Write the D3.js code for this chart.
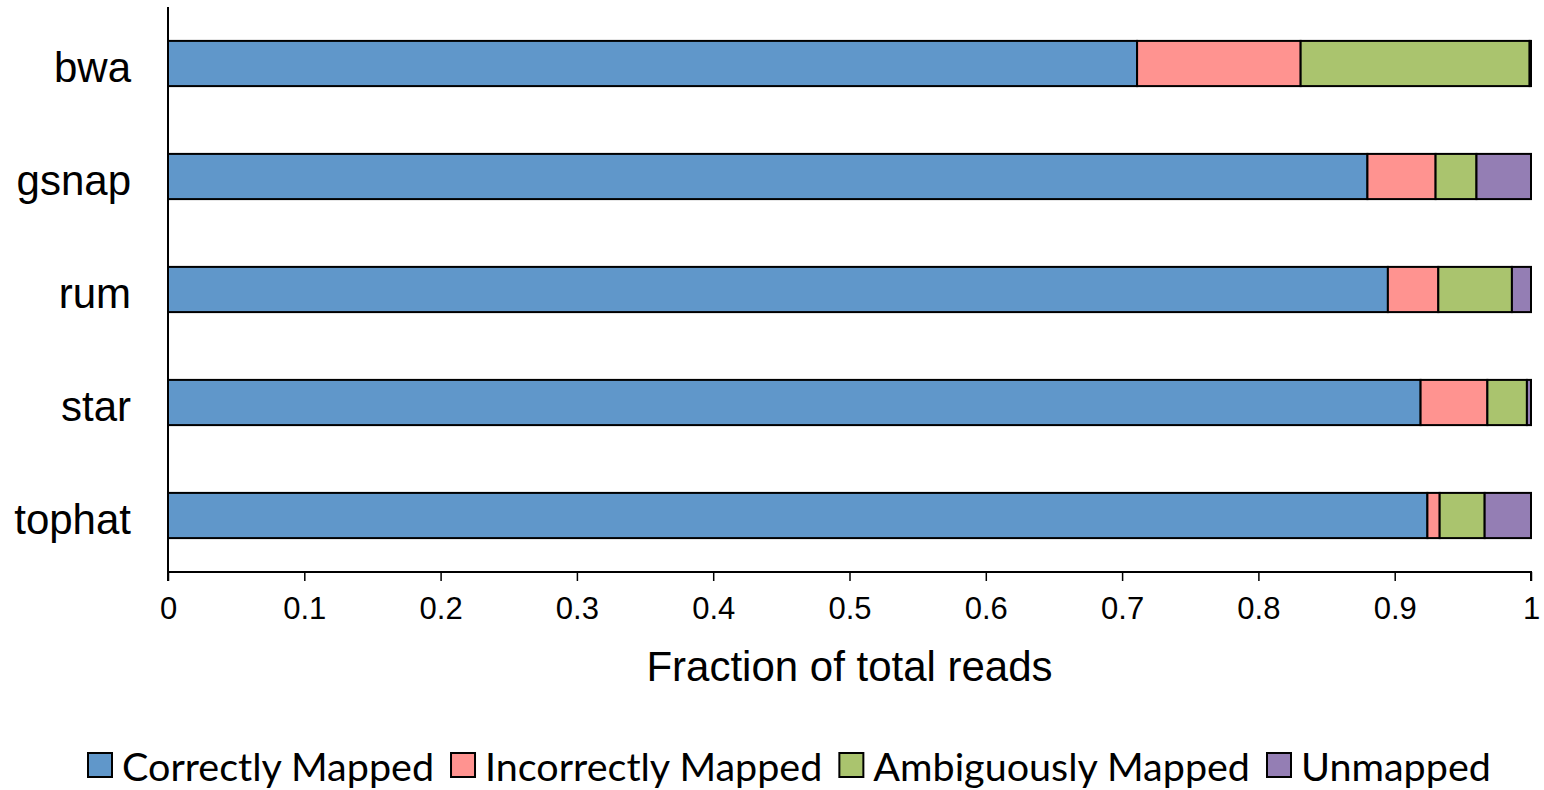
<!DOCTYPE html>
<html><head><meta charset="utf-8">
<script src="https://cdn.jsdelivr.net/npm/d3@7"></script>
<style>body{margin:0;background:#fff}svg{display:block}</style>
</head><body>
<svg id="c" width="1544" height="790"></svg>
<script>
const categories = ["bwa","gsnap","rum","star","tophat"];
const seriesNames = ["Correctly Mapped","Incorrectly Mapped","Ambiguously Mapped","Unmapped"];
const correctlyMapped   = [0.711,0.880,0.895,0.919,0.924];
const incorrectlyMapped = [0.120,0.050,0.037,0.049,0.009];
const ambiguouslyMapped = [0.168,0.030,0.054,0.029,0.033];
const unmapped          = [0.001,0.040,0.014,0.003,0.034];
const xTicks = [0,0.1,0.2,0.3,0.4,0.5,0.6,0.7,0.8,0.9,1];
const colors = ["#6097CA","#FF9390","#AAC46E","#947EB4"];

const series = [correctlyMapped,incorrectlyMapped,ambiguouslyMapped,unmapped];
const rows = categories.map((c,i)=>{const o={cat:c};seriesNames.forEach((s,j)=>o[s]=series[j][i]);return o;});
const stacked = d3.stack().keys(seriesNames)(rows);

const svg = d3.select("#c");
const L=168,R=1531,T=7,B=572;
const x = d3.scaleLinear().domain([0,1]).range([L,R]);
const y = d3.scaleBand().domain(categories).range([T,B]).paddingInner(0.6).paddingOuter(0.3);

svg.append("g").selectAll("g").data(stacked).join("g")
  .attr("fill",(d,i)=>colors[i])
  .selectAll("rect").data(d=>d).join("rect")
  .attr("x",d=>x(d[0])).attr("width",d=>x(d[1])-x(d[0]))
  .attr("y",d=>y(d.data.cat)).attr("height",y.bandwidth())
  .attr("stroke","#000").attr("stroke-width",2);

// x axis
const xa = svg.append("g").attr("transform",`translate(0,${B})`)
  .call(d3.axisBottom(x).tickValues(xTicks).tickFormat(d=>d3.format("")(d)).tickSize(9).tickPadding(16));
xa.select(".domain").attr("stroke","#000").attr("stroke-width",2).attr("d",`M${L},9V0H${R}V9`);
xa.selectAll(".tick line").attr("stroke","#000").attr("stroke-width",1.5);
xa.selectAll(".tick text").attr("font-family","Liberation Sans, Arial, sans-serif").attr("font-size",31).attr("fill","#000");

// y axis
const ya = svg.append("g").attr("transform",`translate(${L},0)`)
  .call(d3.axisLeft(y).tickSize(0).tickPadding(37));
ya.select(".domain").attr("stroke","#000").attr("stroke-width",2).attr("d",`M0,${T}V${B}`);
ya.selectAll(".tick text").attr("font-family","Liberation Sans, Arial, sans-serif").attr("font-size",42).attr("dy","0.44em").attr("fill","#000");

svg.append("text").attr("x",(L+R)/2).attr("y",681).attr("text-anchor","middle")
  .attr("font-family","Liberation Sans, Arial, sans-serif").attr("font-size",42).text("Fraction of total reads");

// legend
const lg = svg.append("g").attr("font-family","Lato, sans-serif").attr("font-size",39.5);
let cx = 88;
seriesNames.forEach((s,i)=>{
  lg.append("rect").attr("x",cx).attr("y",753).attr("width",24).attr("height",24)
    .attr("fill",colors[i]).attr("stroke","#000").attr("stroke-width",2);
  const t = lg.append("text").attr("x",cx+34).attr("y",781).text(s);
  cx += 34 + t.node().getComputedTextLength() + 17;
});
</script>
</body></html>
